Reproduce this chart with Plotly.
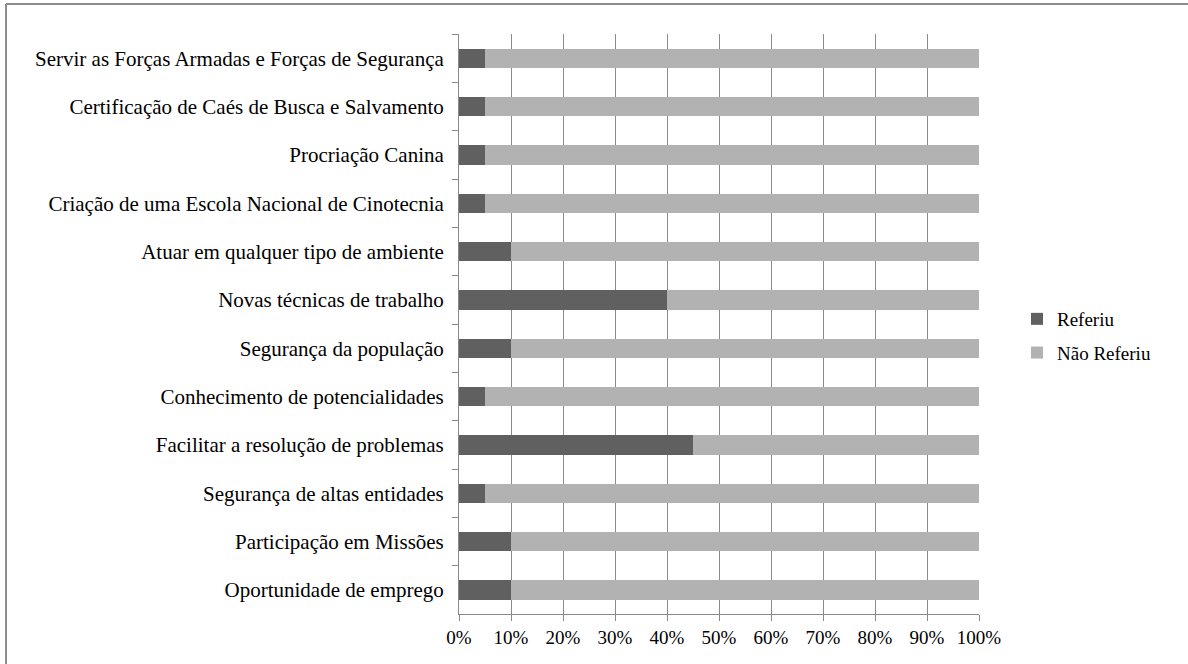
import plotly.graph_objects as go

categories = [
    "Servir as Forças Armadas e Forças de Segurança",
    "Certificação de Caés de Busca e Salvamento",
    "Procriação Canina",
    "Criação de uma Escola Nacional de Cinotecnia",
    "Atuar em qualquer tipo de ambiente",
    "Novas técnicas de trabalho",
    "Segurança da população",
    "Conhecimento de potencialidades",
    "Facilitar a resolução de problemas",
    "Segurança de altas entidades",
    "Participação em Missões",
    "Oportunidade de emprego",
]
referiu = [5, 5, 5, 5, 10, 40, 10, 5, 45, 5, 10, 10]
nao_referiu = [95, 95, 95, 95, 90, 60, 90, 95, 55, 95, 90, 90]
x_ticks = [0, 10, 20, 30, 40, 50, 60, 70, 80, 90, 100]
x_tick_labels = ["0%", "10%", "20%", "30%", "40%", "50%", "60%", "70%", "80%", "90%", "100%"]

FONT = "Liberation Serif"
GRID = "#8a8a8a"

fig = go.Figure()
fig.add_trace(go.Bar(y=categories, x=referiu, name="Referiu", orientation="h",
                     legendgroup="a",
                     marker=dict(color="#606060", line=dict(width=0))))
fig.add_trace(go.Bar(y=categories, x=nao_referiu, name="Não Referiu", orientation="h",
                     legendgroup="b",
                     marker=dict(color="#b2b2b2", line=dict(width=0))))

W, H = 1188, 664
L, R, T, B = 459, 209, 34, 50
pw, ph = W - L - R, H - T - B

def px(xp):
    return (xp - L) / pw

def py(yp):
    return (H - B - yp) / ph

fig.update_layout(
    width=W, height=H,
    barmode="stack", bargap=0.6,
    plot_bgcolor="white", paper_bgcolor="white",
    margin=dict(l=L, r=R, t=T, b=B, autoexpand=False),
    font=dict(family=FONT, size=19, color="#000000"),
    xaxis=dict(range=[0, 100], tickvals=x_ticks, ticktext=x_tick_labels,
               showgrid=True, gridcolor=GRID, gridwidth=1,
               showline=True, linecolor=GRID, linewidth=1,
               ticks="outside", ticklen=6, tickcolor=GRID,
               zeroline=False, tickfont=dict(size=19), fixedrange=True),
    yaxis=dict(categoryorder="array", categoryarray=categories, autorange="reversed",
               showgrid=False, showline=True, linecolor=GRID, linewidth=1,
               ticks="outside", ticklen=6, tickcolor=GRID, tickson="boundaries",
               tickfont=dict(size=21), ticklabelstandoff=10, fixedrange=True),
    legend=dict(x=px(1017), y=py(336), xanchor="left", yanchor="middle",
                traceorder="grouped", font=dict(size=19),
                bgcolor="rgba(0,0,0,0)", itemwidth=30, tracegroupgap=6),
    showlegend=True,
    shapes=[
        dict(type="line", xref="paper", yref="paper",
             x0=px(6), x1=px(6), y0=py(4), y1=py(H + 5),
             line=dict(color="#8c8c8c", width=2)),
        dict(type="line", xref="paper", yref="paper",
             x0=px(6), x1=px(W + 5), y0=py(4), y1=py(4),
             line=dict(color="#8c8c8c", width=2)),
    ],
)

fig.write_html("out.html", config={"displayModeBar": False},
               post_script="document.body.style.margin='0';document.body.style.overflow='hidden';")
